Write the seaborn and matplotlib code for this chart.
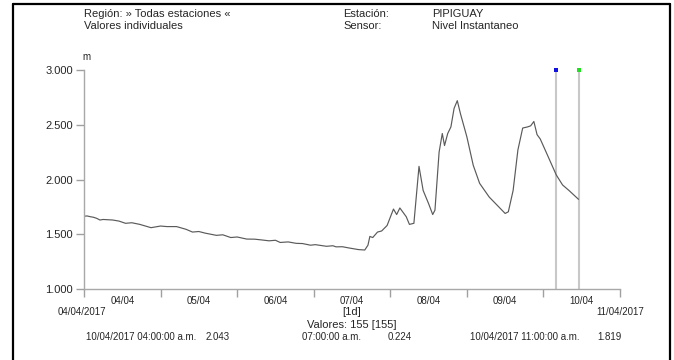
import matplotlib
matplotlib.use("Agg")
import matplotlib.pyplot as plt
import seaborn as sns
import pandas as pd
from matplotlib.lines import Line2D

# hours since 04/04/2017 00:00 and water level (m)
hours = [0, 1, 2, 3, 4, 5, 6, 9, 11, 13, 15, 17.5, 21, 24, 26, 29, 32, 34, 36, 38,
         41.5, 43.5, 46, 48, 51, 53.5, 56, 58, 60, 61.5, 64, 66.5, 68.5, 71, 72.5,
         76, 78, 79, 81, 83, 86, 88, 89, 89.6, 90.5, 92, 93.3, 95, 97, 98, 99, 101,
         102, 103.4, 105, 106.3, 108, 109.3, 110, 111.3, 112.3, 113, 114, 115, 116,
         117, 118, 120, 122, 124, 127, 130, 132, 133, 134.5, 136, 137.5, 139, 140,
         141, 142, 143, 145, 148, 150, 152, 155]
level = [1.665, 1.667, 1.66, 1.655, 1.645, 1.63, 1.635, 1.63, 1.62, 1.60, 1.605, 1.59,
         1.56, 1.575, 1.57, 1.57, 1.545, 1.52, 1.525, 1.51, 1.49, 1.495, 1.47, 1.475,
         1.456, 1.455, 1.447, 1.44, 1.445, 1.425, 1.43, 1.417, 1.415, 1.40, 1.405,
         1.39, 1.395, 1.385, 1.386, 1.375, 1.36, 1.356, 1.40, 1.48, 1.47, 1.52, 1.53,
         1.58, 1.73, 1.68, 1.74, 1.66, 1.59, 1.60, 2.12, 1.90, 1.78, 1.68, 1.72, 2.25,
         2.42, 2.31, 2.42, 2.48, 2.65, 2.72, 2.60, 2.39, 2.13, 1.965, 1.84, 1.75, 1.69,
         1.705, 1.90, 2.27, 2.47, 2.48, 2.49, 2.53, 2.41, 2.37, 2.24, 2.043, 1.95,
         1.90, 1.819]

day_labels = ["04/04", "05/04", "06/04", "07/04", "08/04", "09/04", "10/04"]
y_ticks = [1.0, 1.5, 2.0, 2.5, 3.0]
y_tick_labels = ["1.000", "1.500", "2.000", "2.500", "3.000"]
cursor_hours = [148, 155]
cursor_colors = ["#1010e0", "#20e020"]

df = pd.DataFrame({"hours": hours, "level": level})

sns.set_style("white")
plt.rcParams["font.family"] = ["Liberation Sans", "DejaVu Sans"]
W, H = 674, 360
FS = 8
FS_SMALL = 7
fig = plt.figure(figsize=(W / 100, H / 100), dpi=100)
ax = fig.add_axes([84 / W, 1 - 289 / H, (620 - 84) / W, (289 - 70) / H])

sns.lineplot(data=df, x="hours", y="level", ax=ax, color="#5a5a5a", linewidth=0.85)

for h, c in zip(cursor_hours, cursor_colors):
    ax.vlines(h, 1.0, 3.0, color="#c8c8c8", linewidth=1.5, zorder=1)
    ax.scatter([h], [3.0], marker="s", s=5, color=c, clip_on=False, zorder=3, linewidths=0)

ax.set_xlim(0, 168)
ax.set_ylim(1.0, 3.0)
ax.set_xticks(range(0, 169, 24))
ax.set_xticklabels([])
ax.set_xticks([12 + 24 * i for i in range(len(day_labels))], minor=True)
ax.set_xticklabels(day_labels, minor=True, fontsize=FS_SMALL)
ax.tick_params(axis="x", which="major", direction="out", length=6, color="#a0a0a0", width=1, bottom=True)
ax.tick_params(axis="x", which="minor", length=0, pad=5)
ax.set_yticks(y_ticks)
ax.set_yticklabels(y_tick_labels, fontsize=FS)
ax.tick_params(axis="y", direction="out", length=6, color="#a0a0a0", width=1, left=True, pad=2)
ax.set_xlabel("")
ax.set_ylabel("")
for s in ["top", "right"]:
    ax.spines[s].set_visible(False)
for s in ["left", "bottom"]:
    ax.spines[s].set_color("#a8a8a8")
    ax.spines[s].set_linewidth(1)
ax.patch.set_alpha(0)


def ftext(x, y, s, ha="left", fs=FS):
    fig.text(x / W, 1 - y / H, s, ha=ha, va="center", fontsize=fs)


ftext(84, 14, "Región: » Todas estaciones «")
ftext(84, 26, "Valores individuales")
ftext(343, 14, "Estación:")
ftext(343, 26, "Sensor:")
ftext(432, 14, "PIPIGUAY")
ftext(432, 26, "Nivel Instantaneo")
ftext(86, 57, "m", ha="center", fs=FS_SMALL)
ftext(82, 312, "04/04/2017", ha="center", fs=FS_SMALL)
ftext(620, 312, "11/04/2017", ha="center", fs=FS_SMALL)
ftext(352, 312, "[1d]", ha="center")
ftext(352, 325, "Valores: 155 [155]", ha="center")
ftext(86, 337, "10/04/2017 04:00:00 a.m.", fs=FS_SMALL)
ftext(206, 337, "2.043", fs=FS_SMALL)
ftext(302, 337, "07:00:00 a.m.", fs=FS_SMALL)
ftext(388, 337, "0.224", fs=FS_SMALL)
ftext(470, 337, "10/04/2017 11:00:00 a.m.", fs=FS_SMALL)
ftext(597, 337, "1.819", fs=FS_SMALL)

# outer frame
fx0, fx1, fy0 = 13 / W, 670 / W, 1 - 4 / H
for xs, ys in [([fx0, fx1], [fy0, fy0]), ([fx0, fx0], [fy0, 0]), ([fx1, fx1], [fy0, 0])]:
    fig.add_artist(Line2D(xs, ys, color="black", linewidth=1.6, transform=fig.transFigure))

fig.savefig("out.png", dpi=100)
plt.close(fig)
